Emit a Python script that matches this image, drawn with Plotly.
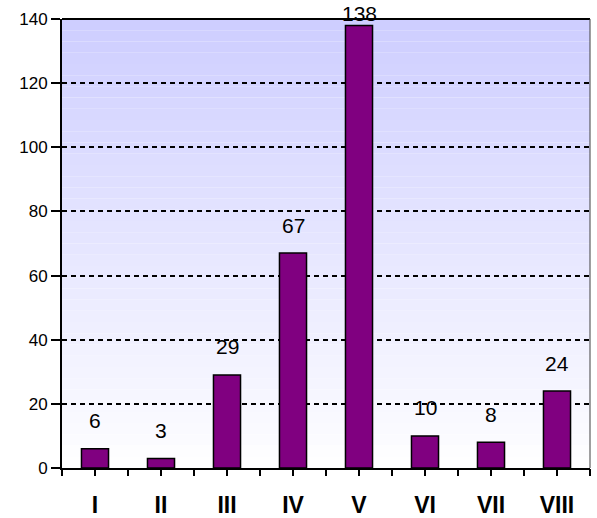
import plotly.graph_objects as go

categories = ["I", "II", "III", "IV", "V", "VI", "VII", "VIII"]
values = [6, 3, 29, 67, 138, 10, 8, 24]
y_ticks = [0, 20, 40, 60, 80, 100, 120, 140]

Y_MAX = 140
LABEL_CAP = 133  # labels near the top are kept inside the chart

fig = go.Figure()

fig.add_trace(go.Bar(
    x=categories, y=values, width=0.41,
    marker=dict(color="#800080", line=dict(color="black", width=1.5)),
    hoverinfo="skip",
))
# dummy trace for boundary ticks axis
fig.add_trace(go.Scatter(x=[], y=[], xaxis="x2", yaxis="y", showlegend=False))

# gradient background bands
n = 40
top = (206, 206, 255)
for i in range(n):
    t = i / n
    c = tuple(round(top[k] + (255 - top[k]) * t) for k in range(3))
    fig.add_shape(type="rect", xref="paper", yref="paper",
                  x0=0, x1=1, y0=1 - (i + 1) / n, y1=1 - i / n,
                  fillcolor="rgb(%d,%d,%d)" % c, line=dict(width=0), layer="below")

# borders
fig.add_shape(type="line", xref="paper", yref="paper", x0=0, x1=1, y0=1, y1=1,
              line=dict(color="black", width=2))
fig.add_shape(type="line", xref="paper", yref="paper", x0=1, x1=1, y0=0, y1=1,
              line=dict(color="#404040", width=1))

for c, v in zip(categories, values):
    fig.add_annotation(x=c, y=min(v, LABEL_CAP), text=str(v), showarrow=False,
                       yanchor="middle", yshift=28,
                       font=dict(family="Liberation Sans, Arial", size=21, color="black"))

fig.update_layout(
    width=597, height=518,
    margin=dict(l=62, r=7, t=19, b=50, autoexpand=False),
    paper_bgcolor="white", plot_bgcolor="white",
    showlegend=False,
    xaxis=dict(type="category", categoryorder="array", categoryarray=categories,
               range=[-0.5, 7.5], showline=True, linecolor="black", linewidth=2,
               ticks="outside", ticklen=6, tickwidth=2, tickcolor="black",
               tickfont=dict(family="Liberation Sans, Arial", size=23, color="black",
                             weight="bold"),
               ticklabelstandoff=9, showgrid=False, zeroline=False, fixedrange=True,
               automargin=False),
    xaxis2=dict(overlaying="x", anchor="y", range=[-0.5, 7.5], type="linear",
                tickvals=[i - 0.5 for i in range(len(categories) + 1)],
                showticklabels=False, ticks="outside", ticklen=7, tickwidth=2,
                tickcolor="black", showgrid=False, zeroline=False, showline=False,
                automargin=False),
    yaxis=dict(range=[0, Y_MAX], tickvals=y_ticks, showline=True, linecolor="black",
               linewidth=2, ticks="outside", ticklen=9, tickwidth=2, tickcolor="black",
               tickfont=dict(family="Liberation Sans, Arial", size=17, color="black"),
               showgrid=True, gridcolor="black", gridwidth=2, griddash="5px,4px",
               zeroline=False, fixedrange=True, automargin=False),
)

fig.write_html("out.html", config={"displayModeBar": False, "staticPlot": True},
               post_script="document.body.style.margin='0';document.body.style.overflow='hidden';")
